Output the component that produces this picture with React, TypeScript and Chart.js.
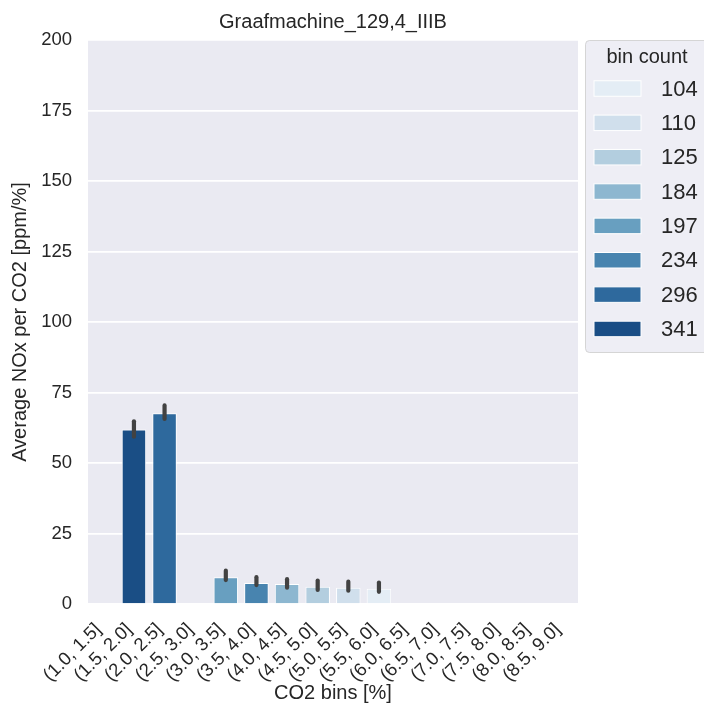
import React, { useEffect, useRef } from "react";
import { Chart, registerables } from "chart.js";

Chart.register(...registerables);

const chartTitle = "Graafmachine_129,4_IIIB";
const xTitle = "CO2 bins [%]";
const yTitle = "Average NOx per CO2 [ppm/%]";
const legendTitle = "bin count";

const categories = [
  "(1.0, 1.5]", "(1.5, 2.0]", "(2.0, 2.5]", "(2.5, 3.0]",
  "(3.0, 3.5]", "(3.5, 4.0]", "(4.0, 4.5]", "(4.5, 5.0]",
  "(5.0, 5.5]", "(5.5, 6.0]", "(6.0, 6.5]", "(6.5, 7.0]",
  "(7.0, 7.5]", "(7.5, 8.0]", "(8.0, 8.5]", "(8.5, 9.0]",
];
const avgNox = [null, 61.9, 67.6, null, 9.45, 7.45, 7.1, 6.15, 5.8, 5.4, null, null, null, null, null, null];
const ciLow = [null, 59.3, 65.6, null, 8.5, 6.7, 5.8, 5.0, 4.7, 4.3, null, null, null, null, null, null];
const ciHigh = [null, 64.8, 70.4, null, 11.8, 9.5, 8.8, 8.3, 7.9, 7.6, null, null, null, null, null, null];
const barBinCount = [null, 341, 296, null, 197, 234, 184, 125, 110, 104, null, null, null, null, null, null];
const legendCounts = [104, 110, 125, 184, 197, 234, 296, 341];
const bluesPalette = ["#e4edf5", "#d0dfec", "#b3cedf", "#8db7d0", "#689fc0", "#4884af", "#2e699d", "#1a4e85"];
const yMin = 0;
const yMax = 200;
const yStep = 25;

const FONT = "'Liberation Sans', Arial, sans-serif";
const TEXT = "#262626";

function colorFor(count: number | null): string {
  if (count === null) return "rgba(0,0,0,0)";
  const idx = legendCounts.indexOf(count);
  return bluesPalette[idx] ?? "#888";
}

const plotBg = {
  id: "plotBg",
  beforeDraw(chart: any) {
    const { ctx, chartArea: a } = chart;
    ctx.save();
    ctx.fillStyle = "#eaeaf2";
    ctx.fillRect(a.left, a.top, a.right - a.left, a.bottom - a.top);
    ctx.restore();
  },
};

const errorBars = {
  id: "errorBars",
  afterDatasetsDraw(chart: any) {
    const { ctx, scales } = chart;
    const xs = scales.x;
    const ys = scales.y;
    ctx.save();
    ctx.strokeStyle = "#424242";
    ctx.lineWidth = 4.2;
    ctx.lineCap = "round";
    for (let i = 0; i < categories.length; i++) {
      const lo = ciLow[i];
      const hi = ciHigh[i];
      if (lo === null || hi === null) continue;
      const x = xs.getPixelForValue(i);
      ctx.beginPath();
      ctx.moveTo(x, ys.getPixelForValue(lo));
      ctx.lineTo(x, ys.getPixelForValue(hi));
      ctx.stroke();
    }
    ctx.restore();
  },
};

const binLegend = {
  id: "binLegend",
  afterDraw(chart: any) {
    const { ctx, chartArea } = chart;
    const boxX = chartArea.right + 7;
    const boxY = chartArea.top;
    const boxW = 160;
    const boxH = 312;
    ctx.save();
    ctx.beginPath();
    ctx.roundRect(boxX + 0.5, boxY + 0.5, boxW, boxH, 4);
    ctx.fillStyle = "rgba(234,234,242,0.8)";
    ctx.fill();
    ctx.strokeStyle = "rgba(204,204,204,0.8)";
    ctx.lineWidth = 1;
    ctx.stroke();

    ctx.fillStyle = TEXT;
    ctx.font = `20px ${FONT}`;
    ctx.textAlign = "center";
    ctx.textBaseline = "middle";
    ctx.fillText(legendTitle, boxX + 62, boxY + 17);

    const firstY = boxY + 48.5;
    const gap = 34.35;
    ctx.font = `22px ${FONT}`;
    ctx.textAlign = "left";
    legendCounts.forEach((c, i) => {
      const cy = firstY + i * gap;
      ctx.fillStyle = bluesPalette[i];
      ctx.fillRect(boxX + 9, cy - 7.75, 47, 15.5);
      ctx.strokeStyle = "#ffffff";
      ctx.lineWidth = 1;
      ctx.strokeRect(boxX + 9, cy - 7.75, 47, 15.5);
      ctx.fillStyle = TEXT;
      ctx.fillText(String(c), boxX + 76, cy + 1);
    });
    ctx.restore();
  },
};

export default function App() {
  const ref = useRef<HTMLCanvasElement | null>(null);

  useEffect(() => {
    if (!ref.current) return;
    Chart.defaults.font.family = FONT;
    Chart.defaults.color = TEXT;
    const chart = new Chart(ref.current, {
      type: "bar",
      data: {
        labels: categories,
        datasets: [
          {
            label: "avg",
            data: avgNox as any,
            backgroundColor: barBinCount.map(colorFor),
            borderColor: "#ffffff",
            borderWidth: 1,
            barPercentage: 0.8,
            categoryPercentage: 1,
          },
        ],
      },
      options: {
        responsive: false,
        devicePixelRatio: 1,
        animation: false,
        layout: { padding: { left: 0, right: 126, top: 0, bottom: 0 } },
        plugins: {
          legend: { display: false },
          tooltip: { enabled: false },
          title: {
            display: true,
            text: chartTitle,
            fullSize: false,
            color: TEXT,
            font: { size: 20, family: FONT, weight: "normal" },
            padding: { top: 10, bottom: 6 },
          },
        },
        scales: {
          x: {
            type: "category",
            grid: { display: false, drawTicks: false },
            border: { display: false },
            ticks: {
              autoSkip: false,
              minRotation: 45,
              maxRotation: 45,
              padding: 15,
              labelOffset: -5,
              color: TEXT,
              font: { size: 18.5, family: FONT },
            },
            title: {
              display: true,
              text: xTitle,
              color: TEXT,
              font: { size: 20, family: FONT },
              padding: { top: 0, bottom: 10 },
            },
            afterFit(scale: any) {
              scale.height = 111;
            },
          },
          y: {
            min: yMin,
            max: yMax,
            grid: { color: "#ffffff", lineWidth: 1.7, drawTicks: false },
            border: { display: false },
            ticks: {
              stepSize: yStep,
              padding: 16,
              color: TEXT,
              font: { size: 18.5, family: FONT },
            },
            title: {
              display: true,
              text: yTitle,
              color: TEXT,
              font: { size: 20, family: FONT },
              padding: { top: 8, bottom: 0 },
            },
            afterFit(scale: any) {
              scale.width = 88;
            },
          },
        },
      },
      plugins: [plotBg, errorBars, binLegend],
    });
    return () => chart.destroy();
  }, []);

  return (
    <div style={{ position: "absolute", left: 0, top: 0, width: 704, height: 715, background: "#ffffff" }}>
      <canvas ref={ref} width={704} height={715} style={{ display: "block" }} />
    </div>
  );
}
